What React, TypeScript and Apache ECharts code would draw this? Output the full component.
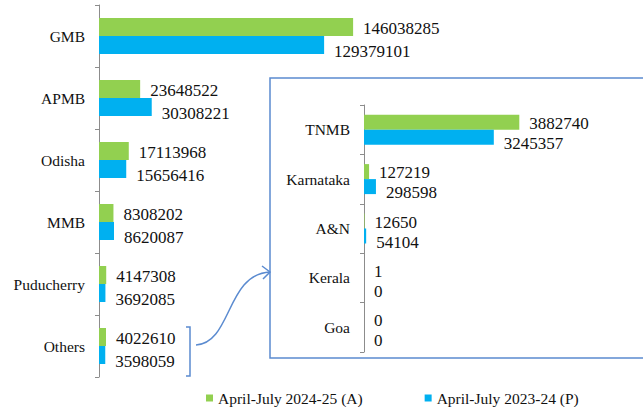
import React, { useEffect, useRef } from "react";
import * as echarts from "echarts";

const mainCategories = ["GMB", "APMB", "Odisha", "MMB", "Puducherry", "Others"];
const mainA = [146038285, 23648522, 17113968, 8308202, 4147308, 4022610];
const mainP = [129379101, 30308221, 15656416, 8620087, 3692085, 3598059];

const insetCategories = ["TNMB", "Karnataka", "A&N", "Kerala", "Goa"];
const insetA = [3882740, 127219, 12650, 1, 0];
const insetP = [3245357, 298598, 54104, 0, 0];

const seriesNames = ["April-July 2024-25 (A)", "April-July 2023-24 (P)"];

const GREEN = "#92D050";
const BLUE = "#00B0F0";
const FONT = "'Liberation Serif', 'Times New Roman', serif";

export default function App() {
  const ref = useRef<HTMLDivElement>(null);
  useEffect(() => {
    if (!ref.current) return;
    const chart = echarts.init(ref.current, null, { renderer: "svg" });
    const catAxis = (gridIndex: number, data: string[]) => ({
      type: "category",
      gridIndex,
      data,
      inverse: true,
      axisLine: { show: true, lineStyle: { color: "#8c8c8c", width: 1 } },
      axisTick: { show: true, length: 4, lineStyle: { color: "#8c8c8c" } },
      axisLabel: { color: "#111", fontFamily: FONT, fontSize: 15.5, margin: 14 },
    });
    const valLabel = (dy: number) => ({
      show: true,
      position: "right",
      distance: 10,
      offset: [0, dy],
      color: "#111",
      fontFamily: FONT,
      fontSize: 17,
    });
    const option = {
      animation: false,
      backgroundColor: "#fff",
      textStyle: { fontFamily: FONT },
      grid: [
        { left: 99, top: 5, width: 348, height: 372 },
        { left: 364, top: 105, width: 200, height: 247 },
      ],
      xAxis: [
        { type: "value", gridIndex: 0, min: 0, max: 200000000, show: false },
        { type: "value", gridIndex: 1, min: 0, max: 5000000, show: false },
      ],
      yAxis: [catAxis(0, mainCategories), catAxis(1, insetCategories)],
      legend: {
        left: 201,
        top: 385,
        itemWidth: 7,
        itemHeight: 7,
        itemGap: 62,
        icon: "rect",
        data: seriesNames,
        textStyle: { fontFamily: FONT, fontSize: 15.5, color: "#111" },
      },
      series: [
        {
          name: seriesNames[0],
          type: "bar",
          xAxisIndex: 0,
          yAxisIndex: 0,
          data: mainA,
          barWidth: 18,
          barGap: "0%",
          itemStyle: { color: GREEN },
          label: valLabel(1),
        },
        {
          name: seriesNames[1],
          type: "bar",
          xAxisIndex: 0,
          yAxisIndex: 0,
          data: mainP,
          barWidth: 18,
          barGap: "0%",
          itemStyle: { color: BLUE },
          label: valLabel(6),
        },
        {
          name: seriesNames[0],
          type: "bar",
          xAxisIndex: 1,
          yAxisIndex: 1,
          data: insetA,
          barWidth: 15,
          barGap: "0%",
          itemStyle: { color: GREEN },
          label: valLabel(1),
        },
        {
          name: seriesNames[1],
          type: "bar",
          xAxisIndex: 1,
          yAxisIndex: 1,
          data: insetP,
          barWidth: 15,
          barGap: "0%",
          itemStyle: { color: BLUE },
          label: valLabel(6),
        },
      ],
      graphic: [
        {
          type: "rect",
          z: -1,
          shape: { x: 270, y: 78, width: 400, height: 280 },
          style: { fill: "none", stroke: "#5B8BD0", lineWidth: 1.5 },
        },
        {
          type: "polyline",
          shape: { points: [[186, 327], [190, 327], [190, 376], [186, 376]] },
          style: { fill: "none", stroke: "#5B8BD0", lineWidth: 1.5 },
        },
        {
          type: "bezierCurve",
          shape: { x1: 196, y1: 345, cpx1: 232, cpy1: 343, cpx2: 226, cpy2: 274, x2: 270, y2: 272 },
          style: { fill: "none", stroke: "#5B8BD0", lineWidth: 1.5 },
        },
        {
          type: "polyline",
          shape: { points: [[262, 266], [270, 272], [263, 279]] },
          style: { fill: "none", stroke: "#5B8BD0", lineWidth: 1.5 },
        },
      ],
    };
    chart.setOption(option as any);
    return () => chart.dispose();
  }, []);
  return <div ref={ref} style={{ width: 643, height: 407, position: "absolute", left: 0, top: 0 }} />;
}
